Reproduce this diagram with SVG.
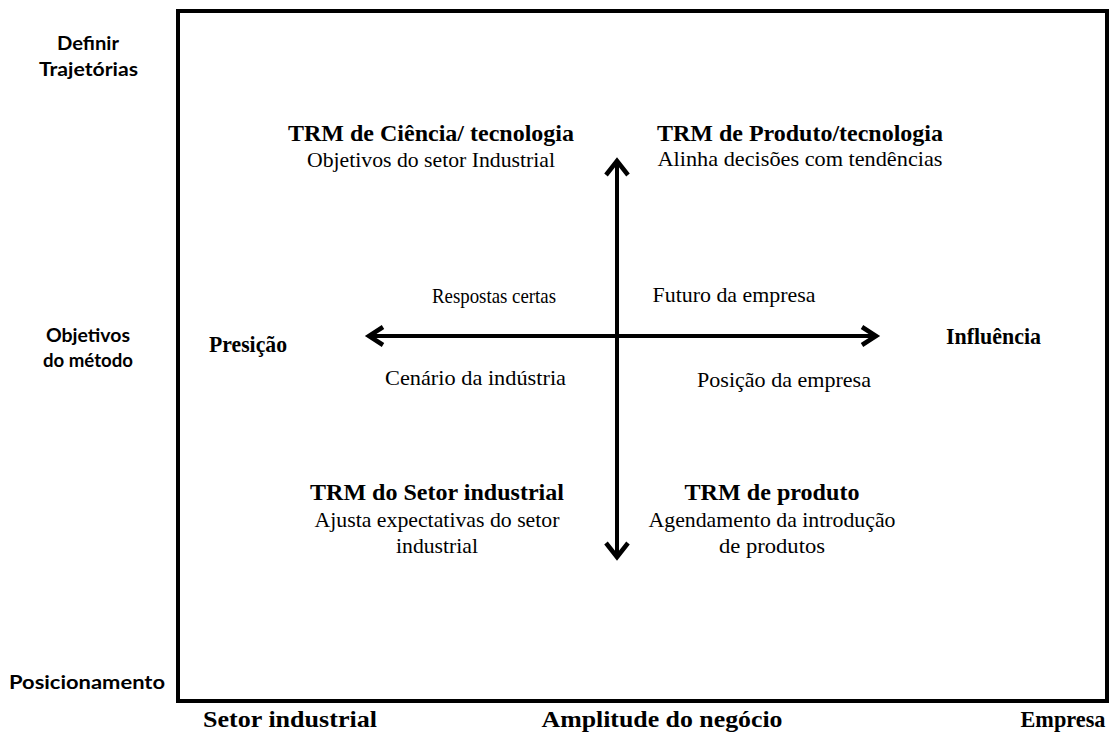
<svg xmlns="http://www.w3.org/2000/svg" width="1113" height="740" viewBox="0 0 1113 740">
<style>
.side{font-family:"Lato","Open Sans","Liberation Sans",sans-serif;font-weight:bold;font-size:19px;fill:#000;text-anchor:middle}
.bold{font-family:"Liberation Serif","Times New Roman",serif;font-weight:bold;font-size:23px;fill:#000;text-anchor:middle}
.reg{font-family:"Liberation Serif","Times New Roman",serif;font-size:21px;fill:#000;text-anchor:middle}
.axis{font-family:"Liberation Serif","Times New Roman",serif;font-weight:bold;font-size:23px;fill:#000;text-anchor:middle}
.line{stroke:#000;stroke-width:4;fill:none}
.head{stroke:#000;stroke-width:4.5;fill:none;stroke-linejoin:miter;stroke-linecap:butt}
</style>
<rect width="1113" height="740" fill="#fff"/>
<g id="frame">
<rect x="178" y="11" width="929" height="690" fill="none" stroke="#000" stroke-width="4"/>
</g>
<g id="side-labels">
<text class="side" x="88" y="50" textLength="62" lengthAdjust="spacingAndGlyphs">Definir</text>
<text class="side" x="88.5" y="76" textLength="99" lengthAdjust="spacingAndGlyphs">Trajetórias</text>
<text class="side" x="88" y="342" textLength="84" lengthAdjust="spacingAndGlyphs">Objetivos</text>
<text class="side" x="88" y="367" textLength="90" lengthAdjust="spacingAndGlyphs">do método</text>
<text class="side" x="87" y="689" textLength="156" lengthAdjust="spacingAndGlyphs">Posicionamento</text>
</g>
<g id="axis-labels">
<text class="axis" x="290" y="727" textLength="174" lengthAdjust="spacingAndGlyphs">Setor industrial</text>
<text class="axis" x="662" y="727" textLength="241" lengthAdjust="spacingAndGlyphs">Amplitude do negócio</text>
<text class="axis" x="1063" y="727" textLength="85" lengthAdjust="spacingAndGlyphs">Empresa</text>
</g>
<g id="connectors">
<line class="line" x1="617" y1="162" x2="617" y2="554"/>
<polyline class="head" points="606,175 617,161 628,175"/>
<polyline class="head" points="606,543 617,557 628,543"/>
<line class="line" x1="370" y1="336" x2="875" y2="336"/>
<polyline class="head" points="383,327 369,336 383,345"/>
<polyline class="head" points="862,327 876,336 862,345"/>
</g>
<g id="node-ciencia">
<text class="bold" x="431" y="141" textLength="286" lengthAdjust="spacingAndGlyphs">TRM de Ciência/ tecnologia</text>
<text class="reg" x="431" y="167" textLength="248" lengthAdjust="spacingAndGlyphs">Objetivos do setor Industrial</text>
</g>
<g id="node-produto-tecnologia">
<text class="bold" x="800" y="141" textLength="286" lengthAdjust="spacingAndGlyphs">TRM de Produto/tecnologia</text>
<text class="reg" x="800" y="166" textLength="285" lengthAdjust="spacingAndGlyphs">Alinha decisões com tendências</text>
</g>
<g id="node-setor">
<text class="bold" x="437" y="500" textLength="254" lengthAdjust="spacingAndGlyphs">TRM do Setor industrial</text>
<text class="reg" x="437" y="527" textLength="245" lengthAdjust="spacingAndGlyphs">Ajusta expectativas do setor</text>
<text class="reg" x="437" y="553" textLength="82" lengthAdjust="spacingAndGlyphs">industrial</text>
</g>
<g id="node-produto">
<text class="bold" x="772" y="500" textLength="175" lengthAdjust="spacingAndGlyphs">TRM de produto</text>
<text class="reg" x="772" y="527" textLength="247" lengthAdjust="spacingAndGlyphs">Agendamento da introdução</text>
<text class="reg" x="772" y="553" textLength="106" lengthAdjust="spacingAndGlyphs">de produtos</text>
</g>
<g id="node-presicao">
<text class="bold" x="248" y="352" textLength="78" lengthAdjust="spacingAndGlyphs">Presição</text>
</g>
<g id="node-influencia">
<text class="bold" x="993.5" y="344" textLength="95" lengthAdjust="spacingAndGlyphs">Influência</text>
</g>
<g id="quadrant-labels">
<text class="reg" x="494" y="303" textLength="124" lengthAdjust="spacingAndGlyphs">Respostas certas</text>
<text class="reg" x="734" y="302" textLength="163" lengthAdjust="spacingAndGlyphs">Futuro da empresa</text>
<text class="reg" x="475.5" y="385" textLength="181" lengthAdjust="spacingAndGlyphs">Cenário da indústria</text>
<text class="reg" x="784" y="387" textLength="174" lengthAdjust="spacingAndGlyphs">Posição da empresa</text>
</g>
</svg>
